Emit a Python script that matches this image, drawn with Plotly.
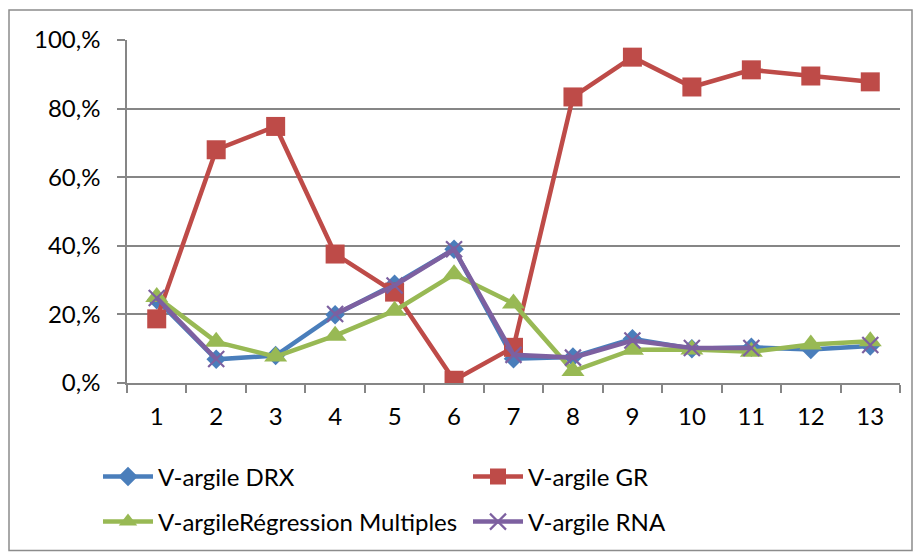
import plotly.graph_objects as go

# Sample numbers along the category axis
categories = [str(i) for i in range(1, 14)]

# Clay volume estimates (fraction of 1) for each method
v_drx = [0.243, 0.069, 0.080, 0.199, 0.288, 0.390, 0.071, 0.076, 0.129, 0.100, 0.104, 0.098, 0.108]
v_gr = [0.187, 0.680, 0.748, 0.376, 0.265, 0.008, 0.104, 0.834, 0.950, 0.863, 0.913, 0.895, 0.878]
v_reg = [0.251, 0.120, 0.077, 0.138, 0.211, 0.317, 0.232, 0.035, 0.097, 0.098, 0.091, 0.112, 0.122]
v_rna = [0.248, 0.070, None, 0.201, 0.284, 0.390, 0.082, 0.074, 0.124, 0.102, 0.102, None, 0.111]

y_ticks = [0, 0.2, 0.4, 0.6, 0.8, 1.0]
y_tick_text = ["0,%", "20,%", "40,%", "60,%", "80,%", "100,%"]

FONT = "Lato"
FS = 24
GRID = "#868686"

W, H = 915, 555
L, R, T, B = 127, 15, 40, 171
pw, ph = W - L - R, H - T - B

fig = go.Figure()

series = [
    ("V-argile DRX", v_drx, "#4A7EBB", dict(symbol="diamond", size=15), "legend"),
    ("V-argile GR", v_gr, "#BE4B48", dict(symbol="square", size=19), "legend"),
    ("V-argileRégression Multiples", v_reg, "#98B954", dict(symbol="triangle-up", size=20), "legend2"),
    ("V-argile RNA", v_rna, "#7D60A0", dict(symbol="x-thin", size=16, line=dict(width=2.2, color="#7D60A0")), "legend2"),
]

for name, vals, color, marker, leg in series:
    fig.add_trace(go.Scatter(
        x=categories, y=vals, name=name, mode="lines+markers",
        line=dict(color=color, width=4.5),
        marker=dict(color=color, **marker),
        connectgaps=False, legend=leg,
    ))

def px_x(px):
    return (px - L) / pw

def px_y(py):
    return (H - B - py) / ph

legend_common = dict(
    orientation="h", xanchor="left", yanchor="middle",
    font=dict(family=FONT, size=FS, color="#000000"),
    entrywidthmode="pixels", entrywidth=305, itemwidth=50,
    bgcolor="rgba(0,0,0,0)", traceorder="normal",
)

fig.update_layout(
    width=W, height=H,
    margin=dict(l=L, r=R, t=T, b=B),
    paper_bgcolor="white", plot_bgcolor="white",
    font=dict(family=FONT, size=FS, color="#000000"),
    xaxis=dict(
        type="category", range=[-0.5, 12.5], autorange=False,
        tickson="boundaries", ticks="outside", ticklen=8,
        tickcolor=GRID, tickwidth=1.5, showline=True, linecolor=GRID, linewidth=1.5,
        showgrid=False, zeroline=False, ticklabelstandoff=11,
        tickfont=dict(family=FONT, size=FS, color="#000000"),
    ),
    yaxis=dict(
        range=[0, 1], tickvals=y_ticks, ticktext=y_tick_text,
        ticks="outside", ticklen=8, tickcolor=GRID, tickwidth=1.5,
        showline=True, linecolor=GRID, linewidth=1.5,
        showgrid=True, gridcolor=GRID, gridwidth=1.5, zeroline=False,
        ticklabelstandoff=12,
        tickfont=dict(family=FONT, size=FS, color="#000000"),
    ),
    legend=dict(x=px_x(98), y=px_y(477), **legend_common),
    legend2=dict(x=px_x(98), y=px_y(522), **legend_common),
    shapes=[dict(
        type="rect", xref="paper", yref="paper",
        x0=px_x(9), x1=px_x(912), y0=px_y(552), y1=px_y(10),
        line=dict(color="#8C8C8C", width=1.5), fillcolor="rgba(0,0,0,0)", layer="below",
    )],
)

fig.write_html("out.html")
